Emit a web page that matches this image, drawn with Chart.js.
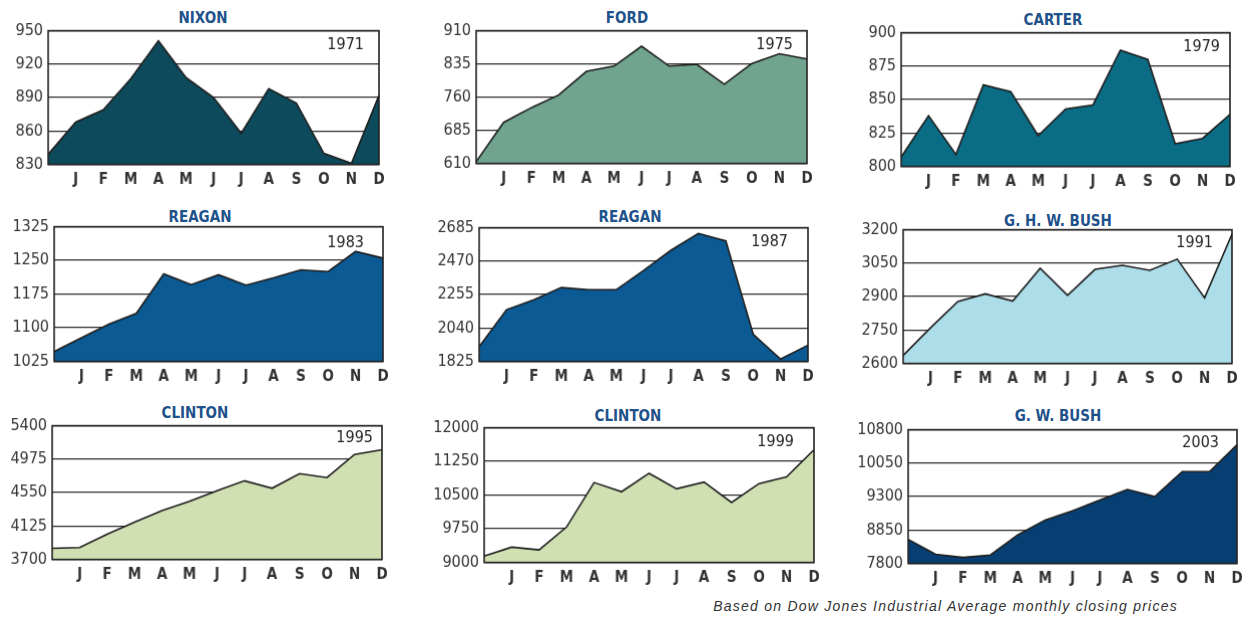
<!DOCTYPE html>
<html>
<head>
<meta charset="utf-8">
<script src="https://cdn.jsdelivr.net/npm/chart.js@4.4.1/dist/chart.umd.min.js"></script>
<style>
  body { margin: 0; background: #fff; width: 1244px; height: 617px; position: relative; overflow: hidden; }
  canvas { position: absolute; }
  .title { position: absolute; font: bold 15px 'DejaVu Sans Condensed', 'Liberation Sans Narrow', sans-serif; color: #1f528b; transform: translate(-50%, -50%); white-space: nowrap; }
  .note { position: absolute; right: 66px; top: 598px; font: italic 14px 'Liberation Sans', Arial, sans-serif; color: #333; letter-spacing: 1.25px; white-space: nowrap; }
</style>
</head>
<body>
<div class="note">Based on Dow Jones Industrial Average monthly closing prices</div>
<script>
// month labels, first point is the previous year's close
var months = ['', 'J', 'F', 'M', 'A', 'M', 'J', 'J', 'A', 'S', 'O', 'N', 'D'];

var titles = ['NIXON', 'FORD', 'CARTER', 'REAGAN', 'REAGAN', 'G. H. W. BUSH', 'CLINTON', 'CLINTON', 'G. W. BUSH'];
var years = ['1971', '1975', '1979', '1983', '1987', '1991', '1995', '1999', '2003'];

var nixon1971 = [839, 868, 879, 907, 941, 908, 890, 858, 898, 885, 840, 831, 892];
var ford1975 = [614, 703, 736, 765, 818, 830, 875, 830, 834, 789, 836, 858, 846];
var carter1979 = [807, 838, 809, 861, 856, 823, 843, 846, 887, 880, 817, 821, 839];
var reagan1983 = [1047, 1078, 1108, 1132, 1220, 1196, 1218, 1195, 1211, 1229, 1225, 1270, 1255];
var reagan1987 = [1920, 2158, 2222, 2300, 2286, 2286, 2410, 2540, 2648, 2600, 2000, 1840, 1930];
var bush1991 = [2636, 2760, 2878, 2912, 2880, 3027, 2906, 3022, 3040, 3018, 3068, 2894, 3180];
var clinton1995 = [3842, 3852, 4020, 4175, 4322, 4440, 4575, 4700, 4605, 4790, 4740, 5035, 5095];
var clinton1999 = [9140, 9340, 9280, 9790, 10780, 10575, 10985, 10640, 10790, 10335, 10755, 10905, 11510];
var gwBush2003 = [8340, 8005, 7935, 7990, 8440, 8775, 8980, 9225, 9460, 9300, 9860, 9860, 10460];

var nixonTicks = ['830', '860', '890', '920', '950'];
var fordTicks = ['610', '685', '760', '835', '910'];
var carterTicks = ['800', '825', '850', '875', '900'];
var reagan83Ticks = ['1025', '1100', '1175', '1250', '1325'];
var reagan87Ticks = ['1825', '2040', '2255', '2470', '2685'];
var bush91Ticks = ['2600', '2750', '2900', '3050', '3200'];
var clinton95Ticks = ['3700', '4125', '4550', '4975', '5400'];
var clinton99Ticks = ['9000', '9750', '10500', '11250', '12000'];
var gwBushTicks = ['7800', '8850', '9300', '10050', '10800']; // 2nd label printed as 8850 in the original

var fills = ['#0d4a5c', '#70a48f', '#0a6c85', '#0b5a94', '#0b5a94', '#acdde8', '#d0e0b2', '#d0e0b2', '#083f72'];

var series = [nixon1971, ford1975, carter1979, reagan1983, reagan1987, bush1991, clinton1995, clinton1999, gwBush2003];
var tickSets = [nixonTicks, fordTicks, carterTicks, reagan83Ticks, reagan87Ticks, bush91Ticks, clinton95Ticks, clinton99Ticks, gwBushTicks];

// plot boxes [left, top, right, bottom], title centre [x, y], year offset from top-right
var boxes = [
  [48, 31, 378, 164], [476, 31, 806, 163], [901, 33, 1229, 166],
  [54, 227, 382, 361], [479, 228, 807, 361], [903, 230, 1231, 363],
  [52, 426, 381, 559], [484, 428, 813, 562], [908, 430, 1236, 563]
];
var titlePos = [
  [203, 18], [627, 18], [1053, 20],
  [200, 217], [630, 217], [1058, 221],
  [195, 413], [628, 416], [1058, 416]
];
var yearOffset = [[15, 14], [14, 14], [10, 14], [19, 16], [20, 14], [19, 13], [9, 12], [20, 14], [18, 13]];

var AXIS_W = 52, AXIS_H = 32;
var narrow = "'Liberation Sans Narrow', 'DejaVu Sans Condensed', sans-serif";

var framePlugin = {
  id: 'frame',
  afterDatasetsDraw: function(chart, args, opts) {
    var ctx = chart.ctx, a = chart.chartArea;
    ctx.save();
    ctx.strokeStyle = '#222';
    ctx.lineWidth = 1.6;
    ctx.strokeRect(a.left, a.top, a.right - a.left, a.bottom - a.top);
    ctx.font = '16px ' + narrow;
    ctx.fillStyle = '#222';
    ctx.textAlign = 'right';
    ctx.textBaseline = 'middle';
    ctx.fillText(opts.year, a.right - opts.dx, a.top + opts.dy);
    ctx.restore();
  }
};

for (var i = 0; i < 9; i++) {
  (function(i) {
    var b = boxes[i];
    var ticks = tickSets[i];
    var lo = +ticks[0], hi = +ticks[ticks.length - 1];

    var t = document.createElement('div');
    t.className = 'title';
    t.textContent = titles[i];
    t.style.left = titlePos[i][0] + 'px';
    t.style.top = titlePos[i][1] + 'px';
    document.body.appendChild(t);

    var cv = document.createElement('canvas');
    var w = (b[2] - b[0]) + AXIS_W + 20;
    var h = (b[3] - b[1]) + AXIS_H + 20;
    cv.width = w; cv.height = h;
    cv.style.width = w + 'px'; cv.style.height = h + 'px';
    document.body.appendChild(cv);

    var chart = new Chart(cv.getContext('2d'), {
      type: 'line',
      data: {
        labels: months,
        datasets: [{
          data: series[i],
          fill: 'start',
          backgroundColor: fills[i],
          borderColor: '#1e1e1e',
          borderWidth: 1.6,
          pointRadius: 0,
          tension: 0
        }]
      },
      options: {
        responsive: false,
        maintainAspectRatio: false,
        animation: false,
        devicePixelRatio: 1,
        layout: { padding: 0 },
        plugins: {
          legend: { display: false },
          tooltip: { enabled: false },
          frame: { year: years[i], dx: yearOffset[i][0], dy: yearOffset[i][1] }
        },
        scales: {
          x: {
            offset: false,
            grid: { display: false, drawTicks: false },
            border: { display: false },
            ticks: { autoSkip: false, maxRotation: 0, padding: 7, color: '#333', font: { family: narrow, size: 15, weight: 'bold' } },
            afterFit: function(s) { s.height = AXIS_H; }
          },
          y: {
            min: lo,
            max: hi,
            afterBuildTicks: function(s) {
              s.ticks = ticks.map(function(v, k) { return { value: lo + (hi - lo) * k / (ticks.length - 1) }; });
            },
            grid: { color: '#2a2a2a', lineWidth: 1.3, drawTicks: false },
            border: { display: false },
            ticks: {
              padding: 5,
              color: '#333',
              font: { family: narrow, size: 16 },
              callback: function(v, k) { return ticks[k]; }
            },
            afterFit: function(s) { s.width = AXIS_W; }
          }
        }
      },
      plugins: [framePlugin]
    });

    // correct canvas size so the plot area matches the box, then place it
    var a = chart.chartArea;
    var nw = w + ((b[2] - b[0]) - (a.right - a.left));
    var nh = h + ((b[3] - b[1]) - (a.bottom - a.top));
    chart.resize(nw, nh);
    a = chart.chartArea;
    cv.style.left = (b[0] - a.left) + 'px';
    cv.style.top = (b[1] - a.top) + 'px';
  })(i);
}
</script>
</body>
</html>
